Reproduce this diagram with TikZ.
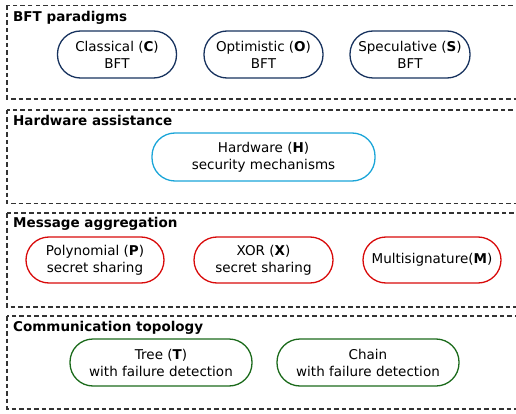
\documentclass[tikz,border=0pt]{standalone}
\usepackage{fontspec}
\setmainfont{DejaVu Sans}
\begin{document}
\begin{tikzpicture}[x=1pt,y=-1pt,
  grp/.style={draw=black!80,line width=1.2pt,dash pattern=on 4.5pt off 3pt},
  gtitle/.style={anchor=base west,inner sep=0pt,font=\fontsize{13.5}{17}\selectfont\bfseries},
  pill/.style={draw,line width=1.3pt,rounded corners=23pt,align=center,inner sep=0pt,
    minimum height=47pt,font=\fontsize{13.5}{17}\selectfont},
  navy/.style={pill,draw=navyc},
  cyanb/.style={pill,draw=cyanc},
  redb/.style={pill,draw=redc},
  greenb/.style={pill,draw=greenc}]
\definecolor{navyc}{HTML}{17325E}
\definecolor{cyanc}{HTML}{1AA5D8}
\definecolor{redc}{HTML}{D80A0A}
\definecolor{greenc}{HTML}{1B6A1B}
\useasboundingbox (0,0) rectangle (516,414);
\clip (0,0) rectangle (516,414);
% groups
\draw[grp] (7,5.5) rectangle (530,99);
\draw[grp] (7,110) rectangle (530,203.5);
\draw[grp] (7,213) rectangle (530,307);
\draw[grp] (7,316) rectangle (530,409);
\node[gtitle] (t1) at (13,22) {BFT paradigms};
\node[gtitle] (t2) at (13,126) {Hardware assistance};
\node[gtitle] (t3) at (13,227.5) {Message aggregation};
\node[gtitle] (t4) at (13,331) {Communication topology};
% nodes
\node[navy,minimum width=119pt] (C) at (117,54.5) {Classical (\textbf{C})\\BFT};
\node[navy,minimum width=119pt] (O) at (263.5,54.5) {Optimistic (\textbf{O})\\BFT};
\node[navy,minimum width=120pt] (S) at (410,54.5) {Speculative (\textbf{S})\\BFT};
\node[cyanb,minimum width=223pt,minimum height=48pt] (H) at (263.5,157) {Hardware (\textbf{H})\\security mechanisms};
\node[redb,minimum width=138pt,minimum height=46pt] (P) at (95,260) {Polynomial (\textbf{P})\\secret sharing};
\node[redb,minimum width=139pt,minimum height=46pt] (X) at (263.5,260) {XOR (\textbf{X})\\secret sharing};
\node[redb,minimum width=138pt,minimum height=46pt] (M) at (432,260) {Multisignature(\textbf{M})};
\node[greenb,minimum width=182pt] (T) at (161,362.5) {Tree (\textbf{T})\\with failure detection};
\node[greenb,minimum width=182pt] (Ch) at (368,362.5) {Chain\\with failure detection};
\end{tikzpicture}
\end{document}
